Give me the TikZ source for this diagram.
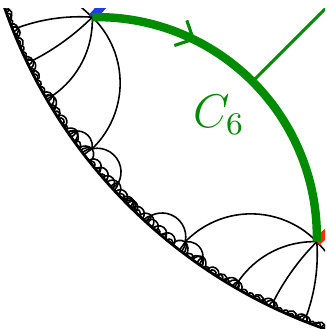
\documentclass[tikz,border=0pt]{standalone}
\usetikzlibrary{decorations.markings,arrows.meta,calc}
\definecolor{cgreen}{RGB}{0,140,0}
\definecolor{cblue}{RGB}{30,60,235}
\definecolor{cred}{RGB}{255,45,0}
\def\Ox{4.97}\def\Oy{1.63}\def\Rad{5.21}
\def\ms{1}\def\mo{0}
% geodesic between (phi1,depth1) and (phi2,depth2); depth 0 = ideal point
\newcommand\Geo[5][]{%
  \edef\gpa{\fpeval{(\ms)*(#2)+(\mo)}}%
  \edef\gpb{\fpeval{(\ms)*(#4)+(\mo)}}%
  \edef\gux{\fpeval{(\Rad-(#3))*cosd(\gpa)}}%
  \edef\guy{\fpeval{(\Rad-(#3))*sind(\gpa)}}%
  \edef\gwx{\fpeval{(\Rad-(#5))*cosd(\gpb)}}%
  \edef\gwy{\fpeval{(\Rad-(#5))*sind(\gpb)}}%
  \edef\gpp{\fpeval{((\Rad)*(\Rad)+(\gux)*(\gux)+(\guy)*(\guy))/2}}%
  \edef\gqq{\fpeval{((\Rad)*(\Rad)+(\gwx)*(\gwx)+(\gwy)*(\gwy))/2}}%
  \edef\gdet{\fpeval{(\gux)*(\gwy)-(\guy)*(\gwx)}}%
  \edef\gcx{\fpeval{((\gpp)*(\gwy)-(\guy)*(\gqq))/(\gdet)}}%
  \edef\gcy{\fpeval{((\gux)*(\gqq)-(\gpp)*(\gwx))/(\gdet)}}%
  \edef\grr{\fpeval{round(sqrt(((\gux)-(\gcx))*((\gux)-(\gcx))+((\guy)-(\gcy))*((\guy)-(\gcy))),5)}}%
  \edef\gsa{\fpeval{atand((\guy)-(\gcy),(\gux)-(\gcx))}}%
  \edef\gea{\fpeval{atand((\gwy)-(\gcy),(\gwx)-(\gcx))}}%
  \edef\gdf{\fpeval{(\gea)-(\gsa)+540}}%
  \edef\gdf{\fpeval{(\gdf)-360*floor((\gdf)/360)-180}}%
  \edef\gea{\fpeval{round((\gsa)+(\gdf),4)}}%
  \edef\gsa{\fpeval{round(\gsa,4)}}%
  \edef\gsx{\fpeval{round(\Ox+(\gux),5)}}%
  \edef\gsy{\fpeval{round(\Oy+(\guy),5)}}%
  \draw[geo,#1] (\gsx,\gsy) arc[start angle=\gsa,end angle=\gea,radius=\grr];%
}
\newcommand\Dome[4]{\Geo{#1}{#2}{#1-(#3)}{0}\Geo{#1}{#2}{#1+(#4)}{0}}
\newcommand\Fan[3]{\foreach \fo in {#3}{\Geo{#1}{#2}{#1+(\fo)}{0}}}
\newcommand\Semi[2]{\Geo{#1}{0}{#2}{0}}
\newcommand\HalfTree{%
  % edges of the vertex V1
  \Geo{204}{0.78}{201.7}{0.052}
  \Geo{204}{0.78}{205.7}{0.058}
  \Geo{204}{0.78}{210.2}{0.07}
  \Geo{204}{0.78}{217.6}{0.10}
  % chain near the boundary
  \Geo{215.0}{0.085}{217.6}{0.10}
  \Geo{217.6}{0.10}{222.4}{0.085}
  % domes
  \Dome{201.7}{0.052}{0.65}{0.65}
  \Dome{205.7}{0.058}{0.7}{0.7}
  \Dome{210.2}{0.07}{0.8}{0.85}
  \Dome{215.0}{0.085}{0.85}{0.75}
  \Dome{217.6}{0.10}{0.95}{1.0}
  \Dome{222.4}{0.085}{0.9}{0.95}
  \Dome{225}{0.07}{0.8}{0.8}
  % fans
  \Fan{201.7}{0.052}{-0.25,0.25}
  \Fan{205.7}{0.058}{-0.25,0.25}
  \Fan{210.2}{0.07}{-0.3,0.03,0.3}
  \Fan{215.0}{0.085}{-0.45,-0.15,0.2}
  \Fan{217.6}{0.10}{-0.65,-0.35,-0.05}
  \Fan{222.4}{0.085}{-0.3,0.03,0.3}
  \Fan{225}{0.07}{-0.25,0.25}
  % overlapping companions of the domes
  \Semi{201.4}{202.7}\Semi{205.3}{206.8}\Semi{209.8}{211.5}
  \Semi{214.5}{216.0}
  % chain of loops between V3 and the axis
  \Semi{218.4}{220.1}\Semi{219.6}{221.3}\Semi{220.8}{222.4}
  \Semi{222.9}{224.5}\Semi{223.9}{225.5}
  % small semicircles on the boundary
  \Semi{199.0}{199.7}\Semi{199.8}{200.6}\Semi{200.5}{201.1}
  \Semi{202.3}{202.9}\Semi{203.0}{203.5}\Semi{203.6}{204.3}\Semi{204.4}{205.0}
  \Semi{206.4}{207.0}\Semi{207.1}{207.8}\Semi{207.9}{208.6}\Semi{208.7}{209.4}
  \Semi{211.0}{211.7}\Semi{211.8}{212.6}\Semi{212.7}{213.5}\Semi{213.6}{214.2}
  \Semi{215.75}{216.65}
  \Semi{218.6}{219.3}\Semi{219.5}{220.2}\Semi{220.4}{221.0}\Semi{221.1}{221.5}
  \Semi{223.35}{224.2}
  % a few medium loops along the upper boundary
  \Semi{199.3}{200.4}\Semi{202.7}{203.8}\Semi{206.7}{207.9}\Semi{211.3}{212.5}
  \Semi{212.4}{213.8}
}
\begin{document}
\begin{tikzpicture}[x=1cm,y=1cm,
  geo/.style={black,line width=0.45pt},
  bnd/.style={black,line width=0.8pt},
  thick curve/.style={line width=2.4pt,line cap=butt},
  greenarc/.style={thick curve,cgreen,postaction={decorate},
    decoration={markings,mark=at position 0.3 with
      {\arrow{Straight Barb[length=4pt,width=8pt,line width=0.9pt]}}}},
  tickline/.style={cgreen,line width=0.85pt},
  lbl/.style={text=cgreen,inner sep=0pt,scale=1.12}]
\useasboundingbox (0,-3.29) rectangle (3.27,0);
\begin{scope}
\clip (0,-3.29) rectangle (3.25,-0.08);
\draw[bnd] (\Ox,\Oy) circle[radius=\Rad];
\HalfTree
\def\ms{-1}\def\mo{450}
\HalfTree
\def\ms{1}\def\mo{0}
\coordinate (V1) at ({\Ox+4.43*cos(204)},{\Oy+4.43*sin(204)});
\coordinate (V2) at ({\Ox+4.43*cos(246)},{\Oy+4.43*sin(246)});
\draw[geo] (V1) -- ++(138:0.3);
\draw[geo] (V2) -- ++(-48:0.3);
\draw[thick curve,cblue] (V1) -- ++(48:0.35);
\draw[thick curve,cred] (V2) -- ++(42:0.35);
\Geo[greenarc]{204}{0.78}{246}{0.78}
\edef\gD{\fpeval{sqrt((\gcx)*(\gcx)+(\gcy)*(\gcy))}}
\edef\Mx{\fpeval{round(\Ox+(\gcx)*(1-(\grr)/(\gD)),5)}}
\edef\My{\fpeval{round(\Oy+(\gcy)*(1-(\grr)/(\gD)),5)}}
\coordinate (M) at (\Mx,\My);
\coordinate (T) at ($(M)+(45:1.1)$);
\draw[tickline] (M) -- (T);
\node[lbl] (C6) at (2.19,-1.15) {\large $C_6$};
\end{scope}
\end{tikzpicture}
\end{document}
